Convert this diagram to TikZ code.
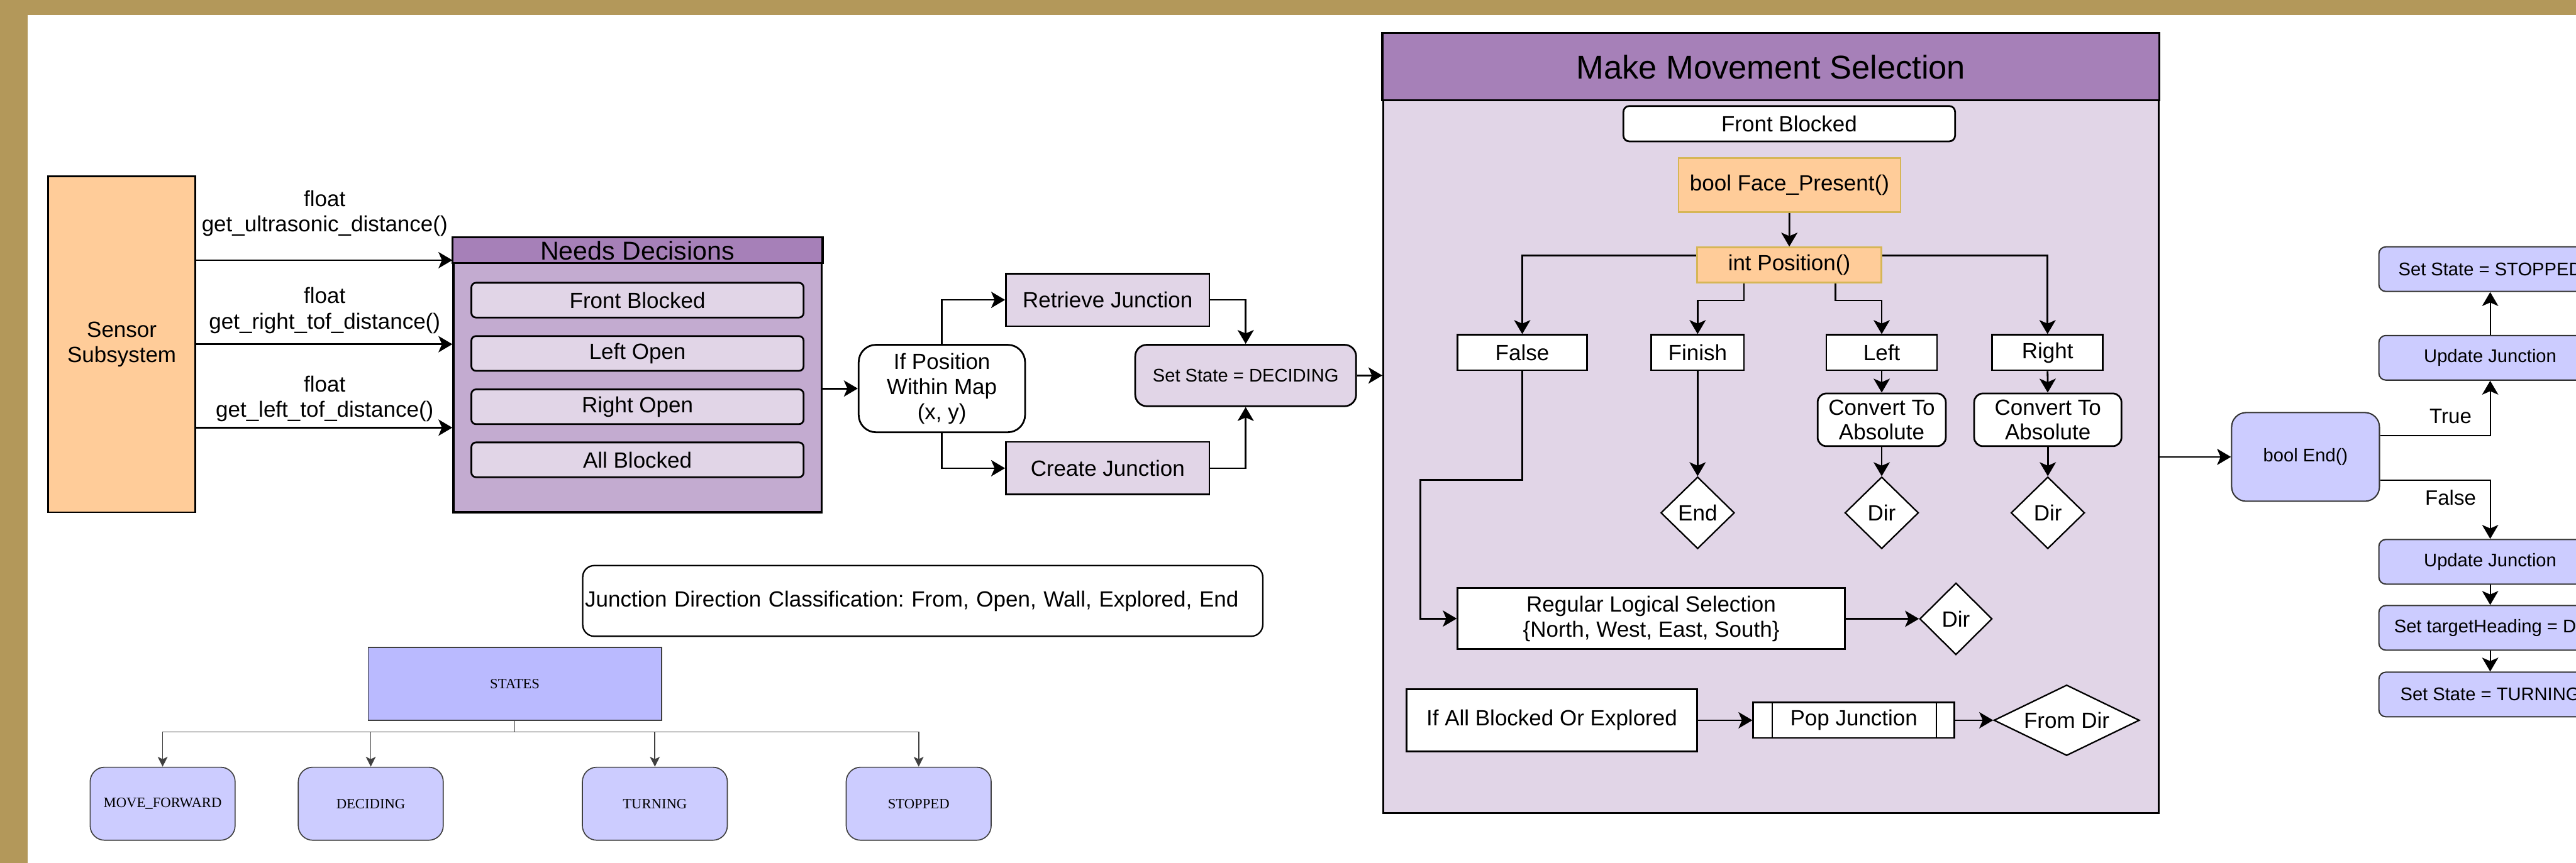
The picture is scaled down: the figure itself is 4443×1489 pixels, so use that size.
\documentclass[tikz,border=0pt]{standalone}
\usepackage{fontspec}
\setmainfont{Liberation Sans}
\newfontfamily\statefont{Liberation Serif}
\usetikzlibrary{arrows.meta,calc,positioning,shapes.geometric}
\frenchspacing

\definecolor{gold}{RGB}{179,152,90}
\definecolor{peach}{HTML}{FFCC99}
\definecolor{peachline}{HTML}{D6B656}
\definecolor{plum}{HTML}{A680B8}
\definecolor{plumlight}{HTML}{C3ABD0}
\definecolor{lilac}{HTML}{E1D5E7}
\definecolor{periwinkle}{HTML}{CCCCFF}
\definecolor{periroot}{HTML}{BABAFF}

\tikzset{
  flowbox/.style={draw, line width=0.3mm, inner sep=0pt, align=center,
    font=\fontsize{10.8}{12.3}\selectfont},
  itembox/.style={flowbox, fill=lilac, rounded corners=0.8mm,
    minimum width=57.3mm, minimum height=6mm},
  procbox/.style={flowbox, fill=lilac, minimum width=35.1mm, minimum height=9.1mm},
  whitebox/.style={flowbox, fill=white, minimum height=6.1mm},
  fnbox/.style={flowbox, fill=peach, draw=peachline},
  decision/.style={flowbox, shape=diamond, fill=white, line width=0.25mm, aspect=1},
  bluebox/.style={flowbox, fill=periwinkle, draw=black!80, line width=0.22mm,
    rounded corners=1.2mm, minimum width=38.4mm, minimum height=7.7mm,
    font=\fontsize{9}{11}\selectfont},
  statebox/.style={draw=black!75, line width=0.18mm, fill=periwinkle, inner sep=0pt,
    rounded corners=2.5mm, minimum width=25mm, minimum height=12.6mm,
    font=\statefont\fontsize{7}{8}\selectfont},
  lbl/.style={align=center, inner sep=0pt, font=\fontsize{10.8}{12.5}\selectfont},
  arr/.style={-{Stealth[length=2.4mm,width=2.8mm,inset=0.6mm]}, line width=0.3mm},
  arrthin/.style={-{Stealth[length=2.4mm,width=2.8mm,inset=0.6mm]}, line width=0.2mm},
  sline/.style={draw=black!75, line width=0.18mm},
  sarr/.style={sline, -{Stealth[length=1.7mm,width=1.7mm,inset=0.4mm]}},
}

\begin{document}
\begin{tikzpicture}[x=0.1mm,y=-0.1mm]
  \useasboundingbox (0,0) rectangle (4443,1489);
  \clip (0,0) rectangle (4443,1489);
  \fill[gold] (0,0) rectangle (4443,1489);
  \fill[white] (48,26) rectangle (4443,1489);

  % sensors
  \node[flowbox, fill=peach, minimum width=25.4mm, minimum height=58mm] (sensor) at (210,594) {Sensor\\Subsystem};

  \node[draw, line width=0.35mm, fill=plumlight, minimum width=63.5mm, minimum height=47.3mm] (needs) at (1099.5,647.5) {};
  \draw[line width=0.35mm, fill=plum] (needs.north west) rectangle ([yshift=-4.5mm]needs.north east);
  \node[font=\fontsize{12.7}{14}\selectfont] (needstitle) at ([yshift=-2.3mm]needs.north) {Needs Decisions};
  \node[itembox] (frontb) at (1099.5,518) {Front Blocked};
  \node[itembox] (lefto) at (1099.5,610) {Left Open};
  \node[itembox] (righto) at (1099.5,702) {Right Open};
  \node[itembox] (allb) at (1099.5,793.5) {All Blocked};

  \node[lbl] (ultra) at (560,368) {float\\get\_ultrasonic\_distance()};
  \node[lbl] (rtof) at (560,536) {float\\get\_right\_tof\_distance()};
  \node[lbl] (ltof) at (560,688) {float\\get\_left\_tof\_distance()};
  \draw[arr] (sensor.east |- 0,449) -- (needs.west |- 0,449);
  \draw[arr] (sensor) -- (needs.west |- sensor);
  \draw[arr] (sensor.east |- 0,738) -- (needs.west |- 0,738);

  % junction lookup
  \node[flowbox, fill=white, rounded corners=3mm, minimum width=28.7mm, minimum height=15.1mm] (ifpos) at (1624.5,670.5) {If Position\\Within Map\\(x, y)};
  \node[procbox] (retrieve) at (1910.5,517.5) {Retrieve Junction};
  \node[procbox] (create) at (1910.5,808) {Create Junction};
  \node[flowbox, fill=lilac, rounded corners=2mm, minimum width=38.1mm, minimum height=10.6mm, font=\fontsize{9}{11}\selectfont] (setdec) at (2148.5,648) {Set State = DECIDING};
  \draw[arr] (needs.east |- ifpos) -- (ifpos);
  \draw[arr] (ifpos.north) |- (retrieve.west);
  \draw[arr] (ifpos.south) |- (create.west);
  \draw[arr] (retrieve.east) -| (setdec.north);
  \draw[arr] (create.east) -| (setdec.south);

  % movement selection
  \node[draw, line width=0.35mm, fill=lilac, minimum width=133.7mm, minimum height=134.4mm] (mm) at (3054.5,731) {};
  \draw[line width=0.35mm, fill=plum] (mm.north west) rectangle ([yshift=-11.6mm]mm.north east);
  \node[font=\fontsize{16.2}{18}\selectfont] (mmtitle) at ([yshift=-5.8mm]mm.north) {Make Movement Selection};
  \draw[arr] (setdec.east) -- (mm.west |- setdec);

  \node[whitebox, rounded corners=1mm, minimum width=57.2mm] (mmfront) at (3086,213.5) {Front Blocked};
  \node[fnbox, minimum width=38.3mm, minimum height=9.3mm] (face) at (3086.5,319.5) {bool Face\_Present()};
  \node[fnbox, minimum width=31.8mm, minimum height=6.1mm] (pos) at (3086,457.5) {int Position()};
  \draw[arr] (face) -- (pos);

  \node[whitebox, minimum width=22.3mm] (false) at (2625.5,608.5) {False};
  \node[whitebox, minimum width=16mm] (finish) at (2928,608.5) {Finish};
  \node[whitebox, minimum width=19.1mm] (left) at (3245.5,608.5) {Left};
  \node[whitebox, minimum width=19.1mm] (right) at (3531.5,608.5) {Right};
  \draw[arr] ([yshift=1.65mm]pos.west) -| (false);
  \draw[arr] ([yshift=1.65mm]pos.east) -| (right);
  \draw[arr] ([xshift=-7.8mm]pos.south) -- ++(0,29) -| (finish);
  \draw[arr] ([xshift=8mm]pos.south) -- ++(0,29) -| (left);

  \node[whitebox, rounded corners=1.5mm, minimum width=22.1mm, minimum height=9.1mm] (convl) at (3245.5,724.5) {Convert To\\Absolute};
  \node[whitebox, rounded corners=1.5mm, minimum width=25.4mm, minimum height=9.1mm] (convr) at (3532,724.5) {Convert To\\Absolute};
  \draw[arr] (left) -- (convl);
  \draw[arr] (right) -- (convr);

  \node[decision, minimum width=12.7mm, minimum height=12.4mm] (enddia) at (2928,885) {End};
  \node[decision, minimum width=12.7mm, minimum height=12.4mm] (dirl) at (3245.5,885) {Dir};
  \node[decision, minimum width=12.7mm, minimum height=12.4mm] (dirr) at (3532,885) {Dir};
  \draw[arr] (finish) -- (enddia);
  \draw[arr] (convl) -- (dirl);
  \draw[arr] (convr) -- (dirr);

  \node[whitebox, minimum width=66.8mm, minimum height=10.5mm] (regular) at (2848,1067.5) {Regular Logical Selection\\\{North, West, East, South\}};
  \node[decision, minimum width=12.5mm, minimum height=12.4mm] (dirsel) at (3373.5,1068) {Dir};
  \draw[arr] (false.south) |- ++(-175.5,188) |- (regular.west);
  \draw[arr] (regular) -- (dirsel);

  \node[whitebox, minimum width=50.1mm, minimum height=10.7mm] (allblk) at (2676.5,1243) {If All Blocked Or Explored};
  \node[whitebox, minimum width=34.7mm] (popj) at (3197.5,1243) {Pop Junction};
  \draw[line width=0.25mm] ([xshift=3.4mm]popj.north west) -- ([xshift=3.4mm]popj.south west);
  \draw[line width=0.25mm] ([xshift=-3.3mm]popj.north east) -- ([xshift=-3.3mm]popj.south east);
  \node[decision, aspect=2, minimum width=25.1mm, minimum height=12.2mm] (fromdir) at (3564.5,1243) {From Dir};
  \draw[arr] (allblk) -- (popj);
  \draw[arr] (popj) -- (fromdir);

  % end check
  \node[bluebox, rounded corners=2.5mm, minimum width=25.5mm, minimum height=15.3mm] (endfn) at (3976.5,788.5) {bool End()};
  \draw[arrthin] (mm.east |- endfn) -- (endfn);
  \node[bluebox] (stopped) at (4295,464.5) {Set State = STOPPED};
  \node[bluebox] (updtop) at (4295,617.5) {Update Junction};
  \node[bluebox] (updbot) at (4295,969.5) {Update Junction};
  \node[bluebox] (target) at (4295,1083.5) {Set targetHeading = Dir};
  \node[bluebox] (turning) at (4295,1198.5) {Set State = TURNING};
  \draw[arrthin] ([yshift=3.7mm]endfn.east) -| node[pos=0.32, above=0.8mm, font=\fontsize{10.2}{12}\selectfont] {True} (updtop);
  \draw[arrthin] ([yshift=-4mm]endfn.east) -| node[pos=0.32, below=0.4mm, font=\fontsize{10.2}{12}\selectfont] {False} (updbot);
  \draw[arrthin] (updtop) -- (stopped);
  \draw[arrthin] (updbot) -- (target);
  \draw[arrthin] (target) -- (turning);

  % notes and states
  \node[flowbox, rounded corners=2mm, line width=0.25mm, minimum height=12.2mm, text width=116.5mm, align=left, inner xsep=0.4mm] (jdir) at (1591.5,1037) {Junction Direction Classification: From, Open, Wall, Explored, End};

  \node[statebox, fill=periroot, rounded corners=0pt, minimum width=50.6mm] (sroot) at (888,1180) {STATES};
  \node[statebox] (smove) at (280.5,1387) {MOVE\_FORWARD};
  \node[statebox] (sdec) at (639.5,1387) {DECIDING};
  \node[statebox] (sturn) at (1129.5,1387) {TURNING};
  \node[statebox] (sstop) at (1584.5,1387) {STOPPED};
  \coordinate (sbar) at (888,1263);
  \draw[sline] (sroot) -- (sbar);
  \draw[sline] (smove |- sbar) -- (sstop |- sbar);
  \foreach \s in {smove,sdec,sturn,sstop}
    \draw[sarr] (\s |- sbar) -- (\s);
\end{tikzpicture}
\end{document}
